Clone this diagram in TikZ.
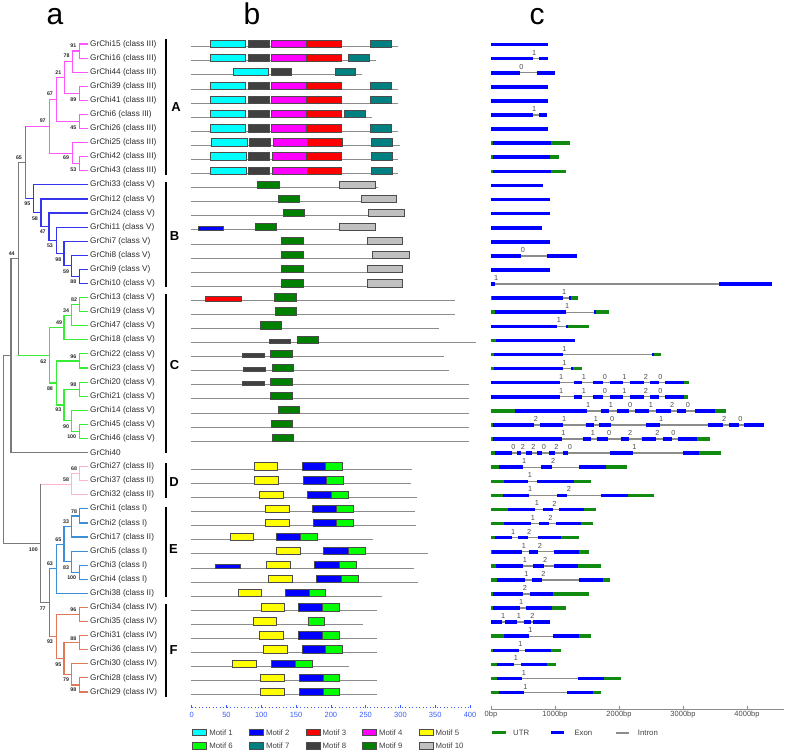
\documentclass[tikz,border=0pt]{standalone}
\usepackage{fontspec}
\setmainfont{Liberation Sans}
\definecolor{cA}{HTML}{FF55FF}
\definecolor{cB}{HTML}{3535EE}
\definecolor{cC}{HTML}{35EE35}
\definecolor{cD}{HTML}{FFB3D1}
\definecolor{cE}{HTML}{3F8FD8}
\definecolor{cF}{HTML}{E0785A}
\definecolor{cG}{HTML}{7A7A7A}
\definecolor{mc1}{HTML}{00FFFF}
\definecolor{mc2}{HTML}{0000FF}
\definecolor{mc3}{HTML}{FF0000}
\definecolor{mc4}{HTML}{FF00FF}
\definecolor{mc5}{HTML}{FFFF00}
\definecolor{mc6}{HTML}{00FF00}
\definecolor{mc7}{HTML}{008080}
\definecolor{mc8}{HTML}{404040}
\definecolor{mc9}{HTML}{008000}
\definecolor{mc10}{HTML}{C0C0C0}
\definecolor{exonblue}{HTML}{0000FF}
\definecolor{utrgreen}{HTML}{108A10}
\definecolor{introngray}{HTML}{8C8C8C}
\definecolor{axisblue}{HTML}{3A5CFF}
\definecolor{txt}{HTML}{2A2A2A}
\newcommand\mT{6.7}
\newcommand\mS{3.6}
\newcommand\mrow[3]{%
  \pgfmathsetmacro\mly{44+14.087*#1+2.7}%
  \draw[mline] (191,\mly) -- (#2,\mly);%
  \foreach \c/\a/\b/\h in {#3}{\draw[mbox,fill=\c] (\a,{\mly-\h}) rectangle (\b,{\mly+0.6});}%
}
\newcommand\grow[2]{%
  \pgfmathsetmacro\gly{44+14.087*#1+0.6}%
  \foreach \t/\a/\b in {#2}{\draw[\t] (\a,\gly) -- (\b,\gly);}%
}
\newcommand\gph[2]{%
  \pgfmathsetmacro\gly{44+14.087*#1+0.6}%
  \foreach \x/\n [count=\k] in {#2}{\node[phase] (ph#1-\k) at ({\x+1.5},{\gly-6}) {\n};}%
}
\tikzset{
  tr/.style={line width=1.1pt},
  tA/.style={tr,draw=cA}, tB/.style={tr,draw=cB}, tC/.style={tr,draw=cC},
  tD/.style={tr,draw=cD}, tE/.style={tr,draw=cE}, tF/.style={tr,draw=cF},
  tG/.style={tr,draw=cG},
  leaf/.style={anchor=west,inner sep=0pt,text=txt,font=\fontsize{8.2}{9}\selectfont},
  bs/.style={inner sep=0pt,text=black!85,font=\fontsize{5.3}{6}\selectfont\bfseries},
  cbar/.style={line width=2pt,draw=black},
  clet/.style={inner sep=0pt,font=\fontsize{13}{14}\selectfont\bfseries},
  head/.style={anchor=base,inner sep=0pt,font=\fontsize{30}{32}\selectfont},
  mline/.style={draw=black!45,line width=0.8pt},
  mbox/.style={draw=black!70,line width=0.5pt},
  gE/.style={draw=exonblue,line width=3.6pt},
  gU/.style={draw=utrgreen,line width=3.6pt},
  gI/.style={draw=introngray,line width=1.4pt},
  phase/.style={inner sep=0pt,text=black!70,font=\fontsize{7.3}{8}\selectfont},
  btick/.style={inner sep=0pt,text=axisblue,font=\fontsize{7.5}{8}\selectfont},
  ctick/.style={inner sep=0pt,text=black!70,font=\fontsize{7.5}{8}\selectfont},
  legt/.style={anchor=west,inner sep=0pt,text=black!75,font=\fontsize{7.8}{8}\selectfont},
}
\begin{document}
\begin{tikzpicture}[x=1pt,y=-1pt]
\useasboundingbox (0,0) rectangle (787,752);
% headers
\node[head] (ha) at (55,25) {a};
\node[head] (hb) at (252,25) {b};
\node[head] (hc) at (537,25) {c};
% ---------------- tree ----------------
% A
\draw[tA] (88,44.0)--(79.3,44.0)--(79.3,58.1)--(88,58.1);
\draw[tA] (79.3,51.05)--(72.3,51.05)--(72.3,72.2)--(88,72.2);
\draw[tA] (88,86.3)--(79.3,86.3)--(79.3,100.3)--(88,100.3);
\draw[tA] (72.3,61.6)--(64.3,61.6)--(64.3,93.3)--(79.3,93.3);
\draw[tA] (88,114.4)--(79.3,114.4)--(79.3,128.5)--(88,128.5);
\draw[tA] (64.3,77.45)--(56.7,77.45)--(56.7,121.45)--(79.3,121.45);
\draw[tA] (88,156.7)--(79.3,156.7)--(79.3,170.8)--(88,170.8);
\draw[tA] (88,142.6)--(72.3,142.6)--(72.3,163.75)--(79.3,163.75);
\draw[tA] (56.7,99.45)--(49.3,99.45)--(49.3,153.2)--(72.3,153.2);
\draw[tA] (49.3,126.3)--(25.7,126.3);
% B
\draw[tB] (88,269.4)--(79.3,269.4)--(79.3,283.5)--(88,283.5);
\draw[tB] (88,255.3)--(71.7,255.3)--(71.7,276.45)--(79.3,276.45);
\draw[tB] (88,241.2)--(64,241.2)--(64,265.9)--(71.7,265.9);
\draw[tB] (88,227.1)--(56.7,227.1)--(56.7,253.55)--(64,253.55);
\draw[tB] (88,213.0)--(49,213.0)--(49,240.3)--(56.7,240.3);
\draw[tB] (88,199.0)--(41,199.0)--(41,226.65)--(49,226.65);
\draw[tB] (88,184.9)--(33.3,184.9)--(33.3,212.8)--(41,212.8);
\draw[tB] (33.3,198.85)--(25.7,198.85);
% backbone
\draw[tG] (25.7,126.3)--(25.7,198.85);
\draw[tG] (25.7,162.6)--(18.3,162.6)--(18.3,355.25);
\draw[tG] (18.3,258.9)--(11,258.9)--(11,452.5)--(88,452.5);
\draw[tG] (11,355.7)--(3.3,355.7)--(3.3,543.4)--(40.7,543.4);
% C
\draw[tC] (88,297.6)--(79.3,297.6)--(79.3,311.7)--(88,311.7);
\draw[tC] (79.3,304.65)--(71.7,304.65)--(71.7,325.7)--(88,325.7);
\draw[tC] (71.7,315.2)--(64,315.2)--(64,339.8)--(88,339.8);
\draw[tC] (88,353.9)--(79.3,353.9)--(79.3,368.0)--(88,368.0);
\draw[tC] (88,382.1)--(79.3,382.1)--(79.3,396.2)--(88,396.2);
\draw[tC] (88,424.4)--(79.3,424.4)--(79.3,438.4)--(88,438.4);
\draw[tC] (88,410.3)--(71.7,410.3)--(71.7,431.4)--(79.3,431.4);
\draw[tC] (79.3,389.15)--(64,389.15)--(64,420.85)--(71.7,420.85);
\draw[tC] (79.3,360.95)--(56.7,360.95)--(56.7,405)--(64,405);
\draw[tC] (64,327.5)--(49.3,327.5)--(49.3,383)--(56.7,383);
\draw[tC] (49.3,355.25)--(18.3,355.25);
% D
\draw[tD] (88,466.6)--(79.3,466.6)--(79.3,480.7)--(88,480.7);
\draw[tD] (79.3,473.65)--(71.7,473.65)--(71.7,494.8)--(88,494.8);
\draw[tD] (71.7,484.2)--(40.7,484.2);
% E
\draw[tE] (88,508.9)--(79.3,508.9)--(79.3,523.0)--(88,523.0);
\draw[tE] (79.3,515.95)--(71.7,515.95)--(71.7,537.0)--(88,537.0);
\draw[tE] (88,565.2)--(79.3,565.2)--(79.3,579.3)--(88,579.3);
\draw[tE] (88,551.1)--(71.7,551.1)--(71.7,572.25)--(79.3,572.25);
\draw[tE] (71.7,526.5)--(64,526.5)--(64,561.7)--(71.7,561.7);
\draw[tE] (64,544.1)--(56.7,544.1)--(56.7,593.4)--(88,593.4);
\draw[tE] (56.7,568.75)--(49.3,568.75);
% F
\draw[tF] (88,607.5)--(79.3,607.5)--(79.3,621.6)--(88,621.6);
\draw[tF] (88,635.7)--(79.3,635.7)--(79.3,649.7)--(88,649.7);
\draw[tF] (88,677.9)--(79.3,677.9)--(79.3,692.0)--(88,692.0);
\draw[tF] (88,663.8)--(71.7,663.8)--(71.7,684.95)--(79.3,684.95);
\draw[tF] (79.3,642.7)--(64,642.7)--(64,674.4)--(71.7,674.4);
\draw[tF] (79.3,614.55)--(56.7,614.55)--(56.7,658.55)--(64,658.55);
\draw[tF] (56.7,636.55)--(49.3,636.55);
\draw[tG] (49.3,568.75)--(49.3,636.55);
\draw[tG] (49.3,602.65)--(40.7,602.65);
\draw[tG] (40.7,484.2)--(40.7,602.65);
% bootstrap values
\foreach \x/\y/\v [count=\k] in {
 73.3/45.5/91, 66.5/56/78, 58.3/72.3/21, 73.3/99.3/89, 50/94/67, 73.3/127.3/45,
 42.7/120.7/97, 66/158/69, 73.3/169.3/53, 19/157.3/65,
 27.3/204/95, 35/218.3/58, 42.7/231.7/47, 50/246/53, 58.3/259.3/98, 66/271.7/59, 73.3/281.7/88,
 11.7/254/44,
 74/299.3/82, 66/310.7/34, 59/323/49, 43.3/361.7/62, 73.3/356.7/96, 50/388.3/88,
 73.3/384.3/98, 58.3/410/93, 66/426.7/90, 71.7/436.7/100,
 74/468.3/68, 66/479.3/58, 33.3/549.3/100,
 74/511.7/78, 66/521.7/33, 58.3/539.3/65, 66/567.3/83, 71.7/577.3/100, 50/564/63,
 42.7/608.3/77,
 73.3/610/96, 73.3/638.3/88, 50/641.7/93, 58.3/664.3/95, 66/680/79, 73.3/690/98}
 {\node[bs] (bs\k) at (\x,\y) {\v};}
% leaf labels
\foreach \t [count=\k from 0] in {
 GrChi15 (class III), GrChi16 (class III), GrChi44 (class III), GrChi39 (class III),
 GrChi41 (class III), GrChi6 (class III), GrChi26 (class III), GrChi25 (class III),
 GrChi42 (class III), GrChi43 (class III),
 GrChi33 (class V), GrChi12 (class V), GrChi24 (class V), GrChi11 (class V),
 GrChi7 (class V), GrChi8 (class V), GrChi9 (class V), GrChi10 (class V),
 GrChi13 (class V), GrChi19 (class V), GrChi47 (class V), GrChi18 (class V),
 GrChi22 (class V), GrChi23 (class V), GrChi20 (class V), GrChi21 (class V),
 GrChi14 (class V), GrChi45 (class V), GrChi46 (class V), GrChi40,
 GrChi27 (class II), GrChi37 (class II), GrChi32 (class II),
 GrChi1 (class I), GrChi2 (class I), GrChi17 (class II), GrChi5 (class I),
 GrChi3 (class I), GrChi4 (class I), GrChi38 (class II),
 GrChi34 (class IV), GrChi35 (class IV), GrChi31 (class IV), GrChi36 (class IV),
 GrChi30 (class IV), GrChi28 (class IV), GrChi29 (class IV)}
 {\node[leaf] (lf\k) at (90,{44+14.087*\k}) {\t};}
% clade bars
\draw[cbar] (165.5,39) -- (165.5,175);
\draw[cbar] (165.5,182) -- (165.5,287);
\draw[cbar] (165.5,294) -- (165.5,453);
\draw[cbar] (165.5,463) -- (165.5,498);
\draw[cbar] (165.5,507) -- (165.5,597);
\draw[cbar] (165.5,604) -- (165.5,697);
\node[clet] (kA) at (176,107.3) {A};
\node[clet] (kB) at (174.5,235.7) {B};
\node[clet] (kC) at (174.5,365) {C};
\node[clet] (kD) at (174,481.7) {D};
\node[clet] (kE) at (173.5,549.3) {E};
\node[clet] (kF) at (173.5,650) {F};
% ---------------- motifs ----------------
\mrow{0}{397.7}{mc1/210/245.7/\mT, mc8/248/269/\mT, mc4/271/306.3/\mT, mc3/306.3/341/\mT, mc7/370/391/\mT}
\mrow{1}{376}{mc1/210/245.7/\mT, mc8/248/269/\mT, mc4/271/306.3/\mT, mc3/306.3/341/\mT, mc7/348/369.3/\mT}
\mrow{2}{362.3}{mc1/233.3/268.3/\mT, mc8/271/291.7/\mT, mc7/335/355.7/\mT}
\mrow{3}{397.7}{mc1/210/245.7/\mT, mc8/248/269/\mT, mc4/271/306.3/\mT, mc3/306.3/341/\mT, mc7/370/391/\mT}
\mrow{4}{397.7}{mc1/210/245.7/\mT, mc8/248/269/\mT, mc4/271/306.3/\mT, mc3/306.3/341/\mT, mc7/370/391/\mT}
\mrow{5}{371.7}{mc1/210/245.7/\mT, mc8/248/269/\mT, mc4/271/306.3/\mT, mc3/306.3/341/\mT, mc7/344/365/\mT}
\mrow{6}{397.7}{mc1/210/245.7/\mT, mc8/248/269/\mT, mc4/271/306.3/\mT, mc3/306.3/341/\mT, mc7/370/391/\mT}
\mrow{7}{400}{mc1/211.3/247.3/\mT, mc8/249.3/270.7/\mT, mc4/273/307.7/\mT, mc3/307.7/342.3/\mT, mc7/371.3/392.7/\mT}
\mrow{8}{398.3}{mc1/210.7/246.7/\mT, mc8/248.3/269.3/\mT, mc4/272.3/306.7/\mT, mc3/306.7/341.7/\mT, mc7/371/392.3/\mT}
\mrow{9}{398.3}{mc1/210.7/246.7/\mT, mc8/248.3/269.3/\mT, mc4/272.3/307/\mT, mc3/307/341.7/\mT, mc7/371.3/392.7/\mT}
\mrow{10}{378.3}{mc9/257.3/279/\mT, mc10/339.7/375/\mT}
\mrow{11}{396.7}{mc9/278.7/299.3/\mT, mc10/361.3/396.7/\mT}
\mrow{12}{404}{mc9/283/304.7/\mT, mc10/368.3/404/\mT}
\mrow{13}{375}{mc2/198.3/223.3/\mS, mc9/255/276/\mT, mc10/339.7/375/\mT}
\mrow{14}{402.7}{mc9/281.7/303.3/\mT, mc10/367.3/402.7/\mT}
\mrow{15}{409.3}{mc9/281.7/303.3/\mT, mc10/372.7/409.3/\mT}
\mrow{16}{402.7}{mc9/281.7/303.3/\mT, mc10/367.3/402.7/\mT}
\mrow{17}{402.7}{mc9/281.7/303.3/\mT, mc10/367.3/402.7/\mT}
\mrow{18}{455}{mc3/205.3/241/\mS, mc9/274.7/296/\mT}
\mrow{19}{455}{mc9/275.3/296.7/\mT}
\mrow{20}{438.7}{mc9/260/281.3/\mT}
\mrow{21}{476}{mc8/269.3/290.3/\mS, mc9/297/318/\mT}
\mrow{22}{444}{mc8/242.3/264/\mS, mc9/270.7/292/\mT}
\mrow{23}{449}{mc8/243.7/265.3/\mS, mc9/272/293.3/\mT}
\mrow{24}{468.7}{mc8/242.3/264/\mS, mc9/270.7/292/\mT}
\mrow{25}{468.7}{mc9/270.7/292/\mT}
\mrow{26}{468.7}{mc9/278.3/299.3/\mT}
\mrow{27}{468.7}{mc9/271.3/292.7/\mT}
\mrow{28}{468.7}{mc9/272.7/293.7/\mT}
\mrow{30}{411.7}{mc5/254/277.3/\mT, mc2/302.3/325/\mT, mc6/325/342.3/\mT}
\mrow{31}{410.7}{mc5/254.7/278.7/\mT, mc2/303/326.3/\mT, mc6/326.3/343.3/\mT}
\mrow{32}{416.7}{mc5/259.3/283.3/\mT, mc2/307.3/331/\mT, mc6/331/348/\mT}
\mrow{33}{415.3}{mc5/265.7/289.7/\mT, mc2/312.7/336/\mT, mc6/336/353/\mT}
\mrow{34}{416}{mc5/265.7/289.7/\mT, mc2/313.3/336.7/\mT, mc6/336.7/353.7/\mT}
\mrow{35}{373}{mc5/230/253/\mT, mc2/276/300/\mT, mc6/300/317/\mT}
\mrow{36}{427.7}{mc5/276.7/300.3/\mT, mc2/323.7/348.3/\mT, mc6/348.3/365.3/\mT}
\mrow{37}{413.7}{mc2/215.7/240.3/\mS, mc5/266.7/290.3/\mT, mc2/314.7/339.3/\mT, mc6/339.3/356.3/\mT}
\mrow{38}{418}{mc5/268.3/292/\mT, mc2/316.7/341.3/\mT, mc6/341.3/358.3/\mT}
\mrow{39}{381.7}{mc5/238.3/261.3/\mT, mc2/285/309.3/\mT, mc6/309.3/325.7/\mT}
\mrow{40}{377}{mc5/261.3/284.3/\mT, mc2/298.3/322.7/\mT, mc6/322.7/339/\mT}
\mrow{41}{363}{mc5/253.3/276.7/\mT, mc6/308.3/324.7/\mT}
\mrow{42}{376.7}{mc5/259.3/283.3/\mT, mc2/298.3/322.7/\mT, mc6/322.7/339/\mT}
\mrow{43}{376.7}{mc5/263.3/287/\mT, mc2/302.3/325/\mT, mc6/325/342.3/\mT}
\mrow{44}{348.7}{mc5/232.3/256.3/\mT, mc2/271.7/295.7/\mT, mc6/295.7/312.3/\mT}
\mrow{45}{376.7}{mc5/260/284/\mT, mc2/299/323.3/\mT, mc6/323.3/339.7/\mT}
\mrow{46}{376.7}{mc5/260/284/\mT, mc2/299/323.3/\mT, mc6/323.3/339.7/\mT}
% motif axis
\draw[axisblue,line width=0.7pt,dash pattern=on 0.8pt off 2.7pt] (191.7,707) -- (470,707);
\foreach \v [count=\k from 0] in {0,50,100,150,200,250,300,350,400}{
  \draw[axisblue,line width=0.7pt] ({191.7+34.79*\k},705) -- ({191.7+34.79*\k},707.5);
  \node[btick] (bt\k) at ({191.7+34.79*\k},714.5) {\v};}
% motif legend
\foreach \c/\t/\x/\y [count=\k] in {
 mc1/Motif 1/192.7/732.3, mc2/Motif 2/249.3/732.3, mc3/Motif 3/306/732.3, mc4/Motif 4/362.3/732.3, mc5/Motif 5/419/732.3,
 mc6/Motif 6/192.7/745.7, mc7/Motif 7/249.3/745.7, mc8/Motif 8/306/745.7, mc9/Motif 9/362.3/745.7, mc10/Motif 10/419/745.7}{
  \draw[mbox,fill=\c] (\x,{\y-3.3}) rectangle ({\x+14},{\y+3.3});
  \node[legt] (ml\k) at ({\x+16.5},\y) {\t};}
% ---------------- gene structures ----------------
\grow{0}{gE/491/548.3}
\grow{1}{gE/491/532.7, gI/532.7/539, gE/539/548.3}
\gph{1}{532.7/1}
\grow{2}{gE/491/520, gI/520/536.7, gE/536.7/554.7}
\gph{2}{520/0}
\grow{3}{gE/491/548.3}
\grow{4}{gE/491/548.3}
\grow{5}{gE/491/532.7, gI/532.7/539, gE/539/547}
\gph{5}{532.7/1}
\grow{6}{gE/491/548.3}
\grow{7}{gU/491/493, gE/493/550.7, gU/550.7/570}
\grow{8}{gU/491/493, gE/493/550, gU/550/558.7}
\grow{9}{gU/491/493, gE/493/550.7, gU/550.7/566.3}
\grow{10}{gE/491/542.7}
\grow{11}{gE/491/549.7}
\grow{12}{gE/491/550.3}
\grow{13}{gE/491/541.7}
\grow{14}{gE/491/549.7}
\grow{15}{gE/491/521.3, gI/521.3/547.3, gE/547.3/576.7}
\gph{15}{521.3/0}
\grow{16}{gE/491/549.7}
\grow{17}{gE/491/494.7, gI/494.7/719.3, gE/719.3/771.7}
\gph{17}{494.7/1}
\grow{18}{gU/491/492, gE/492/562.7, gI/562.7/569, gE/569/571, gU/571/577.7}
\gph{18}{562.7/1}
\grow{19}{gU/491/494.7, gE/494.7/565.7, gI/565.7/594.3, gE/594.3/596, gU/596/609}
\gph{19}{565.7/1}
\grow{20}{gE/491/557.3, gI/557.3/566, gE/566/568, gU/568/589.3}
\gph{20}{557.3/1}
\grow{21}{gU/491/496, gE/496/575}
\grow{22}{gU/491/494, gE/494/563, gI/563/652.3, gE/652.3/654, gU/654/660.7}
\gph{22}{563/1}
\grow{23}{gU/491/494, gE/494/563, gI/563/571.3, gE/571.3/573, gU/573/582.3}
\gph{23}{563/1}
\grow{24}{gE/491/559.7, gI/559.7/573.7, gE/573.7/582.3, gI/582.3/592.7, gE/592.7/603.3, gI/603.3/609.7, gE/609.7/623, gI/623/630, gE/630/644.3, gI/644.3/649.7, gE/649.7/659, gI/659/664.7, gE/664.7/684, gU/684/689.3}
\gph{24}{559.7/1, 582.3/1, 603.3/0, 623/1, 644.3/2, 659/0}
\grow{25}{gE/491/559.7, gI/559.7/573.7, gE/573.7/582.3, gI/582.3/592.7, gE/592.7/603.3, gI/603.3/609.7, gE/609.7/623, gI/623/630, gE/630/644.3, gI/644.3/649.7, gE/649.7/659, gI/659/664.7, gE/664.7/684, gU/684/687.7}
\gph{25}{559.7/1, 582.3/1, 603.3/0, 623/1, 644.3/2, 659/0}
\grow{26}{gU/491/515, gE/515/586.7, gI/586.7/600.7, gE/600.7/609.3, gI/609.3/617, gE/617/628.7, gI/628.7/635.3, gE/635.3/649.3, gI/649.3/655.7, gE/655.7/670.7, gI/670.7/676.7, gE/676.7/686.3, gI/686.3/695, gE/695/715, gU/715/725.7}
\gph{26}{586.7/1, 609.3/1, 628.7/0, 649.3/1, 670.7/2, 686.3/0}
\grow{27}{gU/491/493, gE/493/534.3, gI/534.3/539.7, gE/539.7/562.7, gI/562.7/585.7, gE/585.7/594.3, gI/594.3/599, gE/599/610.7, gI/610.7/646.3, gE/646.3/659.7, gI/659.7/707.7, gE/707.7/722.7, gI/722.7/729.3, gE/729.3/739, gI/739/744, gE/744/763.7}
\gph{27}{534.3/2, 562.7/1, 594.3/1, 610.7/0, 659.7/1, 722.7/2, 739/0}
\grow{28}{gU/491/493, gE/493/562, gI/562/583.3, gE/583.3/591.3, gI/591.3/596.7, gE/596.7/607.7, gI/607.7/620.7, gE/620.7/628.7, gI/628.7/641.7, gE/641.7/656, gI/656/662.7, gE/662.7/672, gI/672/677.7, gE/677.7/697.3, gU/697.3/710}
\gph{28}{562/1, 591.3/1, 607.7/0, 628.7/2, 656/2, 672/0}
\grow{29}{gU/491/495, gE/495/512, gI/512/516.7, gE/516.7/521.3, gI/521.3/526.3, gE/526.3/532, gI/532/537.3, gE/537.3/542.3, gI/542.3/549, gE/549/555, gI/555/562.7, gE/562.7/568.3, gI/568.3/610, gE/610/633, gI/633/683, gE/683/699.3, gU/699.3/720.7}
\gph{29}{512/0, 521.3/2, 532/2, 542.3/0, 555/2, 568.3/0, 633/1}
\grow{30}{gU/491/499, gE/499/522.7, gI/522.7/541.3, gE/541.3/551.7, gI/551.7/579, gE/579/605.7, gU/605.7/626.7}
\gph{30}{522.7/1, 551.7/2}
\grow{31}{gU/491/504, gE/504/528.3, gI/528.3/537, gE/537/573.7, gU/573.7/591}
\gph{31}{528.3/1}
\grow{32}{gU/491/503.3, gE/503.3/528.7, gI/528.7/557, gE/557/567.3, gI/567.3/601.3, gE/601.3/628.3, gU/628.3/653.7}
\gph{32}{528.7/1, 567.3/2}
\grow{33}{gU/491/508, gE/508/535.3, gI/535.3/543.3, gE/543.3/553, gI/553/559.3, gE/559.3/584.3, gU/584.3/595.7}
\gph{33}{535.3/1, 553/2}
\grow{34}{gU/491/504, gE/504/531.3, gI/531.3/539.3, gE/539.3/549, gI/549/555.7, gE/555.7/580.7, gU/580.7/593.3}
\gph{34}{531.3/1, 549/2}
\grow{35}{gU/491/495, gE/495/511.7, gI/511.7/518, gE/518/527.7, gI/527.7/537.7, gE/537.7/561, gU/561/579.3}
\gph{35}{511.7/1, 527.7/2}
\grow{36}{gU/491/492, gE/492/522.3, gI/522.3/528.7, gE/528.7/538.3, gI/538.3/553.7, gE/553.7/579.3, gU/579.3/589.3}
\gph{36}{522.3/1, 538.3/2}
\grow{37}{gU/491/496, gE/496/523.3, gI/523.3/533.3, gE/533.3/543.7, gI/543.7/554, gE/554/578.3, gU/578.3/600.7}
\gph{37}{523.3/1, 543.7/2}
\grow{38}{gU/491/496.7, gE/496.7/525, gI/525/531.7, gE/531.7/542, gI/542/579, gE/579/603.3, gU/603.3/610.3}
\gph{38}{525/1, 542/2}
\grow{39}{gU/491/493, gE/493/523.3, gI/523.3/530, gE/530/553.3, gU/553.3/588.7}
\gph{39}{523.3/2}
\grow{40}{gU/491/493, gE/493/519.7, gI/519.7/525.7, gE/525.7/551.7, gU/551.7/565.7}
\gph{40}{519.7/1}
\grow{41}{gE/491/501.7, gI/501.7/505, gE/505/517.3, gI/517.3/523.7, gE/523.7/531, gI/531/533, gE/533/549.7}
\gph{41}{501.7/1, 517.3/1, 531/2}
\grow{42}{gU/491/504, gE/504/529, gI/529/553.3, gE/553.3/579.3, gU/579.3/591}
\gph{42}{529/1}
\grow{43}{gU/491/493, gE/493/519, gI/519/525, gE/525/550.7, gU/550.7/561}
\gph{43}{519/1}
\grow{44}{gU/491/496.7, gE/496.7/514.3, gI/514.3/521, gE/521/547.3, gU/547.3/555.7}
\gph{44}{514.3/1}
\grow{45}{gU/491/496.7, gE/496.7/522.3, gI/522.3/578.3, gE/578.3/604.3, gU/604.3/621}
\gph{45}{522.3/1}
\grow{46}{gU/491/498.7, gE/498.7/524, gI/524/567.3, gE/567.3/593.3, gU/593.3/601}
\gph{46}{524/1}
% gene axis
\draw[draw=introngray,line width=1.2pt] (491,709.3) -- (784,709.3);
\foreach \v [count=\k from 0] in {0bp,1000bp,2000bp,3000bp,4000bp}{
  \draw[draw=introngray,line width=0.8pt] ({491+64*\k},705.5) -- ({491+64*\k},709.3);
  \node[ctick] (ct\k) at ({491+64*\k},715) {\v};}
% gene legend
\draw[gU,line width=3pt] (492.3,732.7) -- (505.7,732.7);
\node[legt] (lgU) at (513,733) {UTR};
\draw[gE,line width=3pt] (551,732.7) -- (564.3,732.7);
\node[legt] (lgE) at (574.3,733) {Exon};
\draw[gI,line width=2pt] (616,732.7) -- (629.3,732.7);
\node[legt] (lgI) at (637.7,733) {Intron};
\end{tikzpicture}
\end{document}
